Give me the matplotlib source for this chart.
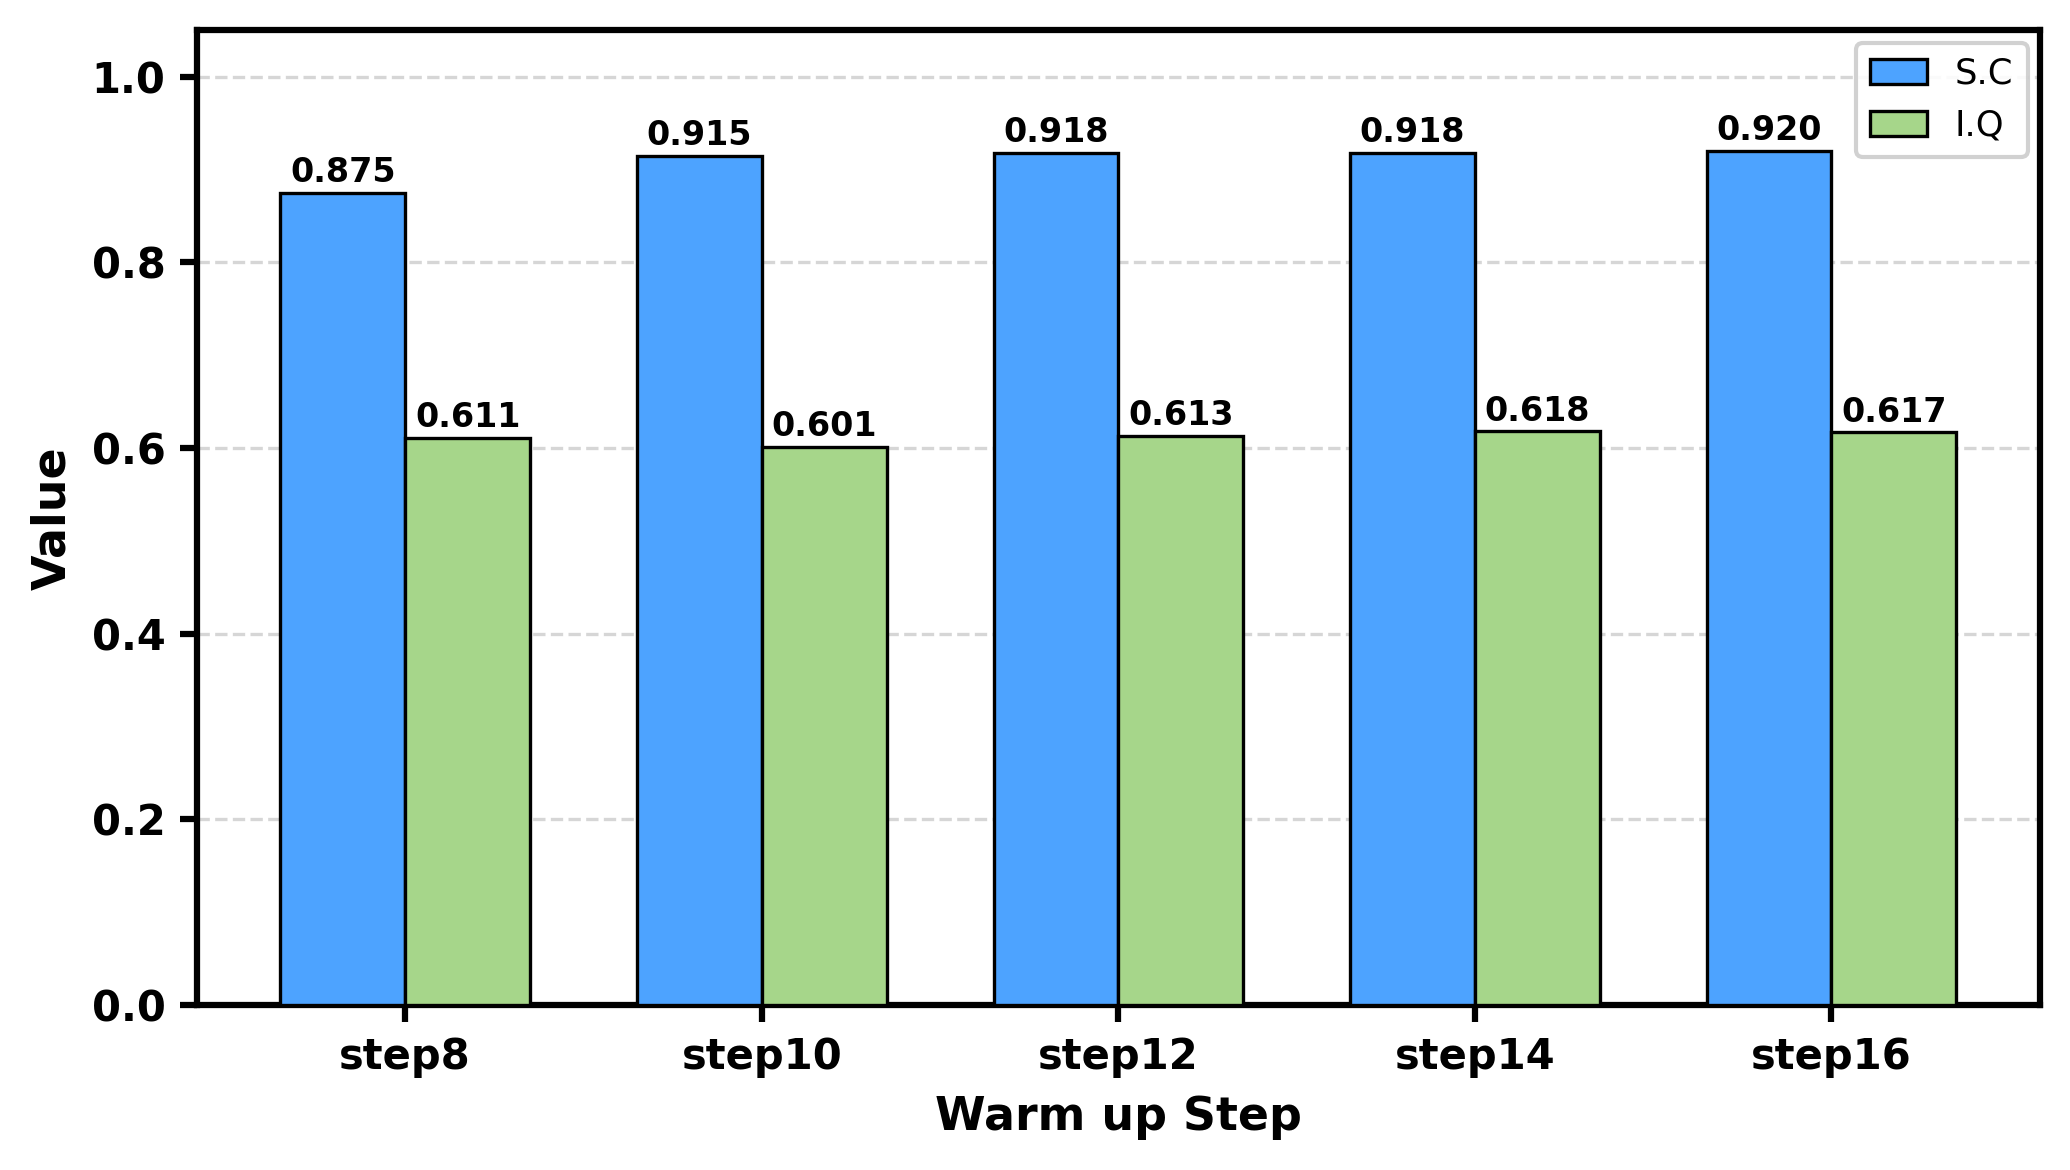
import numpy as np
import matplotlib
matplotlib.use("Agg")
from matplotlib import pyplot as plt

steps = ["step8", "step10", "step12", "step14", "step16"]
sc_values = [0.875, 0.915, 0.918, 0.918, 0.920]
iq_values = [0.611, 0.601, 0.613, 0.618, 0.617]

fig = plt.figure(figsize=(6.9, 3.9), dpi=300)
ax = fig.add_axes([0.095, 0.141, 0.8905, 0.833])

x = np.arange(len(steps))
width = 0.35

bars_sc = ax.bar(x - width / 2, sc_values, width, label="S.C",
                 color="#4DA3FF", edgecolor="black", linewidth=0.8, zorder=3)
bars_iq = ax.bar(x + width / 2, iq_values, width, label="I.Q",
                 color="#A6D68A", edgecolor="black", linewidth=0.8, zorder=3)

# Value labels on top of each bar.
for bars in (bars_sc, bars_iq):
    for b in bars:
        h = b.get_height()
        ax.text(b.get_x() + b.get_width() / 2, h + 0.004, f"{h:.3f}",
                ha="center", va="bottom", fontsize=8, fontweight="bold")

ax.set_ylim(0, 1.05)
ax.set_yticks([0.0, 0.2, 0.4, 0.6, 0.8, 1.0])
ax.set_xticks(x)
ax.set_xticklabels(steps)
ax.set_xlabel("Warm up Step", fontsize=11, fontweight="bold")
ax.set_ylabel("Value", fontsize=11, fontweight="bold")

for lbl in ax.get_xticklabels() + ax.get_yticklabels():
    lbl.set_fontweight("bold")
    lbl.set_fontsize(10)

ax.tick_params(axis="both", width=1.5, length=4)
for s in ax.spines.values():
    s.set_linewidth(1.5)

ax.grid(axis="y", linestyle="--", color="#cccccc", alpha=0.8, linewidth=0.8, zorder=0)
ax.legend(loc="upper right", fontsize=8.5, framealpha=0.9, edgecolor="#cccccc",
          handlelength=1.6, borderaxespad=0.35)

fig.savefig("out.png", dpi=300)
